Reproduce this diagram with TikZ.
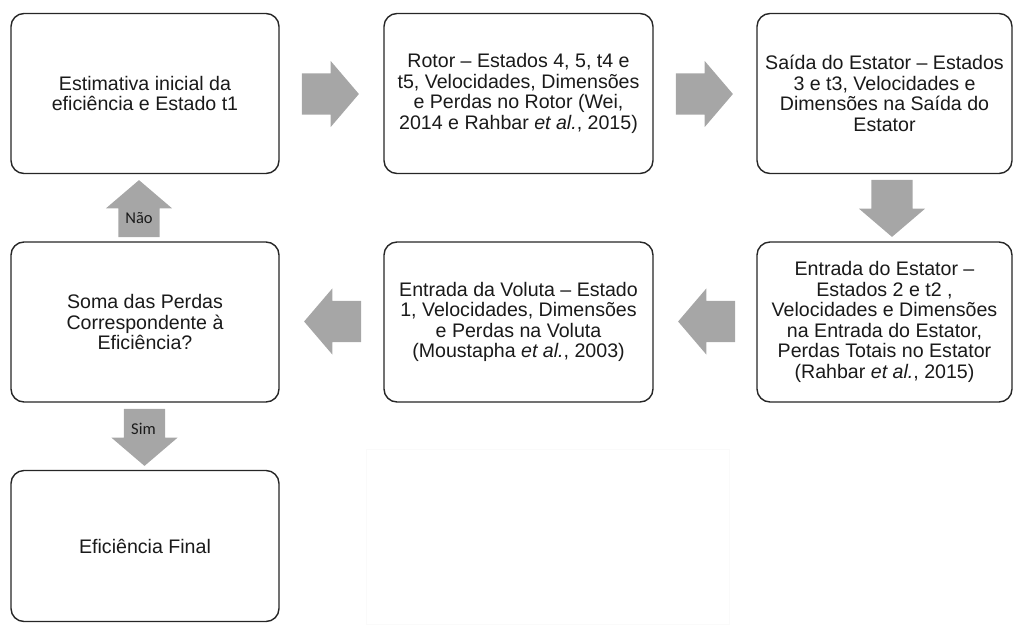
\documentclass[tikz,border=0pt]{standalone}
\usepackage{fontspec}
\setmainfont{Liberation Sans}
\newfontfamily\calfont{Carlito}
\usetikzlibrary{shapes.arrows,calc}
\definecolor{arrgray}{HTML}{A6A6A6}
\definecolor{edgec}{HTML}{262626}
\definecolor{txtc}{HTML}{1A1A1A}
\begin{document}
\begin{tikzpicture}[x=1pt,y=-1pt,
  box/.style={draw=edgec, line width=1.4pt, rounded corners=13pt, fill=white, align=center,
    text=txtc, font=\fontsize{19.6}{20.6}\selectfont, inner sep=0pt},
  blk/.style={single arrow, fill=arrgray, draw=none, minimum height=57pt,
    inner xsep=0pt, inner ysep=20.5pt, text height=0pt, text depth=0pt,
    single arrow head extend=12.5pt, single arrow tip angle=99, anchor=tail},
  lbl/.style={font=\calfont\fontsize{16.5}{16.5}\selectfont, text=txtc}]
\useasboundingbox (0,0) rectangle (1014,624);
\draw[black!2] (366,449) rectangle (729,624);

\node[box, minimum width=268pt, minimum height=160pt] (b1) at (145,93.5)
  {Estimativa inicial da\\eficiência e Estado t1};
\node[box, minimum width=269pt, minimum height=160pt] (b2) at (518.5,93.5)
  {Rotor -- Estados 4, 5, t4 e\\t5, Velocidades, Dimensões\\e Perdas no Rotor (Wei,\\2014 e Rahbar \textit{et al.}, 2015)};
\node[box, minimum width=255pt, minimum height=160pt] (b3) at (884.5,93.5)
  {Saída do Estator -- Estados\\3 e t3, Velocidades e\\Dimensões na Saída do\\Estator};
\node[box, minimum width=255pt, minimum height=160pt] (b4) at (884.5,322)
  {Entrada do Estator --\\Estados 2 e t2 ,\\Velocidades e Dimensões\\na Entrada do Estator,\\Perdas Totais no Estator\\(Rahbar \textit{et al.}, 2015)};
\node[box, minimum width=269pt, minimum height=160pt] (b5) at (518.5,322)
  {Entrada da Voluta -- Estado\\1, Velocidades, Dimensões\\e Perdas na Voluta\\(Moustapha \textit{et al.}, 2003)};
\node[box, minimum width=268pt, minimum height=160pt] (b6) at (145,322)
  {Soma das Perdas\\Correspondente à\\Eficiência?};
\node[box, minimum width=268pt, minimum height=151pt] (b7) at (145,546)
  {Eficiência Final};

\node[blk] (a12) at ($(b1.east)+(22,0.5)$) {};
\node[blk] (a23) at ($(b2.east)+(22,0.5)$) {};
\node[blk, rotate=-90] (a34) at ($(b3.south)+(7.5,5.5)$) {};
\node[blk, rotate=180] (a45) at ($(b4.west)+(-21,-0.5)$) {};
\node[blk, rotate=180] (a56) at ($(b5.west)+(-22,-0.5)$) {};
\node[blk, rotate=90] (a61) at ($(b6.north)+(-6,-4)$) {};
\node[blk, rotate=-90] (a67) at ($(b6.south)+(-0.5,6)$) {};

\node[lbl] (nao) at ($(a61.tail)+(0,-19)$) {Não};
\node[lbl] (sim) at ($(a67.tail)+(-1,20)$) {Sim};
\end{tikzpicture}
\end{document}
